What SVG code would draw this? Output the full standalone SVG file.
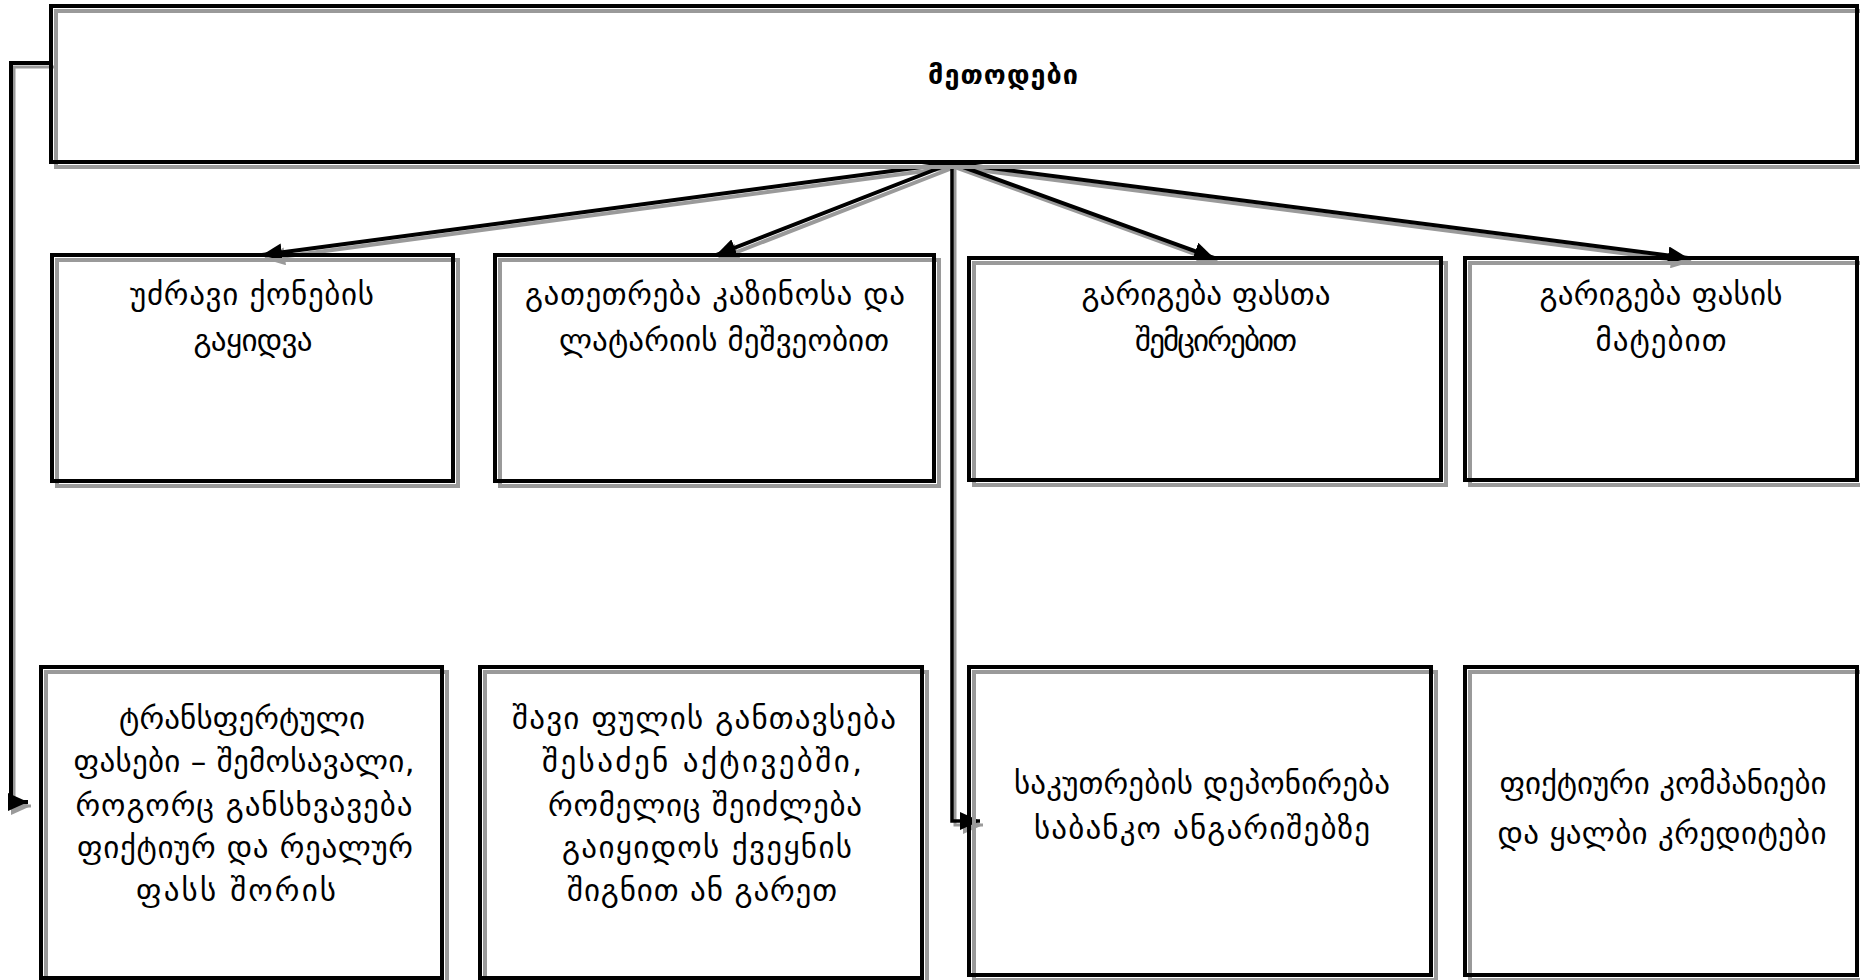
<svg xmlns="http://www.w3.org/2000/svg" width="1860" height="980" viewBox="0 0 1860 980">
<defs>
<marker id="ah" markerUnits="userSpaceOnUse" markerWidth="22" markerHeight="18" refX="20" refY="9" orient="auto"><path d="M0,0 L20,9 L0,18 Z" fill="#000"/></marker>
<marker id="ahs" markerUnits="userSpaceOnUse" markerWidth="22" markerHeight="18" refX="20" refY="9" orient="auto"><path d="M0,0 L20,9 L0,18 Z" fill="#9a9a9a"/></marker>
<style>
.box{fill:none;stroke:#000;stroke-width:4}
.sh{fill:none;stroke:#9a9a9a;stroke-width:4}
.t{font-family:"DejaVu Sans","DejaVu Serif",sans-serif;font-size:31px;fill:#000;text-anchor:middle}
.tb{font-weight:bold;font-size:27px}
.c{fill:none;stroke:#000;stroke-width:4}
.cs{fill:none;stroke:#9a9a9a;stroke-width:4}
</style>
</defs>
<rect width="1860" height="980" fill="#fff"/>
<g id="connectors">
<g transform="translate(3,4)">
<line class="cs" x1="952" y1="163" x2="262" y2="255" marker-end="url(#ahs)"/>
<line class="cs" x1="952" y1="163" x2="716" y2="255" marker-end="url(#ahs)"/>
<line class="cs" x1="952" y1="163" x2="1214" y2="258" marker-end="url(#ahs)"/>
<line class="cs" x1="952" y1="163" x2="1688" y2="258" marker-end="url(#ahs)"/>
<polyline class="cs" style="stroke-width:3" points="952,163 952,821 980,821" marker-end="url(#ahs)"/>
<polyline class="cs" style="stroke-width:3" points="52,63 11,63 11,802 28,802" marker-end="url(#ahs)"/>
</g>
<line class="c" x1="952" y1="163" x2="262" y2="255" marker-end="url(#ah)"/>
<line class="c" x1="952" y1="163" x2="716" y2="255" marker-end="url(#ah)"/>
<line class="c" x1="952" y1="163" x2="1214" y2="258" marker-end="url(#ah)"/>
<line class="c" x1="952" y1="163" x2="1688" y2="258" marker-end="url(#ah)"/>
<polyline class="c" style="stroke-width:3.5" points="952,163 952,821 980,821" marker-end="url(#ah)"/>
<polyline class="c" style="stroke-width:4" points="52,63 11,63 11,802 28,802" marker-end="url(#ah)"/>
</g>
<g id="n0">
<rect class="sh" x="56" y="11" width="1806" height="156"/>
<rect class="box" x="51" y="6" width="1806" height="156"/>
<text class="t tb" x="1003" y="84" textLength="150" lengthAdjust="spacing">მეთოდები</text>
</g>
<g id="n1">
<rect class="sh" x="57" y="260" width="401" height="226"/>
<rect class="box" x="52" y="255" width="401" height="226"/>
<text class="t" x="252" y="305" textLength="244" lengthAdjust="spacing">უძრავი  ქონების</text>
<text class="t" x="253" y="351" textLength="119" lengthAdjust="spacing">გაყიდვა</text>
</g>
<g id="n2">
<rect class="sh" x="500" y="260" width="439" height="226"/>
<rect class="box" x="495" y="255" width="439" height="226"/>
<text class="t" x="715" y="305" textLength="380" lengthAdjust="spacing">გათეთრება  კაზინოსა  და</text>
<text class="t" x="724" y="351" textLength="330" lengthAdjust="spacing">ლატარიის  მეშვეობით</text>
</g>
<g id="n3">
<rect class="sh" x="974" y="263" width="472" height="222"/>
<rect class="box" x="969" y="258" width="472" height="222"/>
<text class="t" x="1206" y="305" textLength="249" lengthAdjust="spacing">გარიგება  ფასთა</text>
<text class="t" x="1216" y="351" textLength="162" lengthAdjust="spacing">შემცირებით</text>
</g>
<g id="n4">
<rect class="sh" x="1470" y="263" width="392" height="222"/>
<rect class="box" x="1465" y="258" width="392" height="222"/>
<text class="t" x="1661" y="305" textLength="243" lengthAdjust="spacing">გარიგება  ფასის</text>
<text class="t" x="1661" y="351" textLength="131" lengthAdjust="spacing">მატებით</text>
</g>
<g id="n5">
<rect class="sh" x="46" y="672" width="401" height="311"/>
<rect class="box" x="41" y="667" width="401" height="311"/>
<text class="t" x="242" y="729" textLength="246" lengthAdjust="spacing">ტრანსფერტული</text>
<text class="t" x="244" y="772" textLength="341" lengthAdjust="spacing">ფასები  –  შემოსავალი,</text>
<text class="t" x="244" y="816" textLength="337" lengthAdjust="spacing">როგორც  განსხვავება</text>
<text class="t" x="245" y="858" textLength="336" lengthAdjust="spacing">ფიქტიურ  და  რეალურ</text>
<text class="t" x="236" y="901" textLength="200" lengthAdjust="spacing">ფასს  შორის</text>
</g>
<g id="n6">
<rect class="sh" x="485" y="672" width="442" height="311"/>
<rect class="box" x="480" y="667" width="442" height="311"/>
<text class="t" x="704" y="729" textLength="384" lengthAdjust="spacing">შავი  ფულის  განთავსება</text>
<text class="t" x="702" y="772" textLength="320" lengthAdjust="spacing">შესაძენ  აქტივებში,</text>
<text class="t" x="705" y="816" textLength="314" lengthAdjust="spacing">რომელიც  შეიძლება</text>
<text class="t" x="707" y="858" textLength="290" lengthAdjust="spacing">გაიყიდოს  ქვეყნის</text>
<text class="t" x="702" y="901" textLength="270" lengthAdjust="spacing">შიგნით  ან  გარეთ</text>
</g>
<g id="n7">
<rect class="sh" x="974" y="672" width="462" height="308"/>
<rect class="box" x="969" y="667" width="462" height="308"/>
<text class="t" x="1202" y="794" textLength="376" lengthAdjust="spacing">საკუთრების  დეპონირება</text>
<text class="t" x="1202" y="839" textLength="336" lengthAdjust="spacing">საბანკო  ანგარიშებზე</text>
</g>
<g id="n8">
<rect class="sh" x="1470" y="672" width="392" height="308"/>
<rect class="box" x="1465" y="667" width="392" height="308"/>
<text class="t" x="1663" y="794" textLength="327" lengthAdjust="spacing">ფიქტიური  კომპანიები</text>
<text class="t" x="1662" y="844" textLength="329" lengthAdjust="spacing">და  ყალბი  კრედიტები</text>
</g>
</svg>
